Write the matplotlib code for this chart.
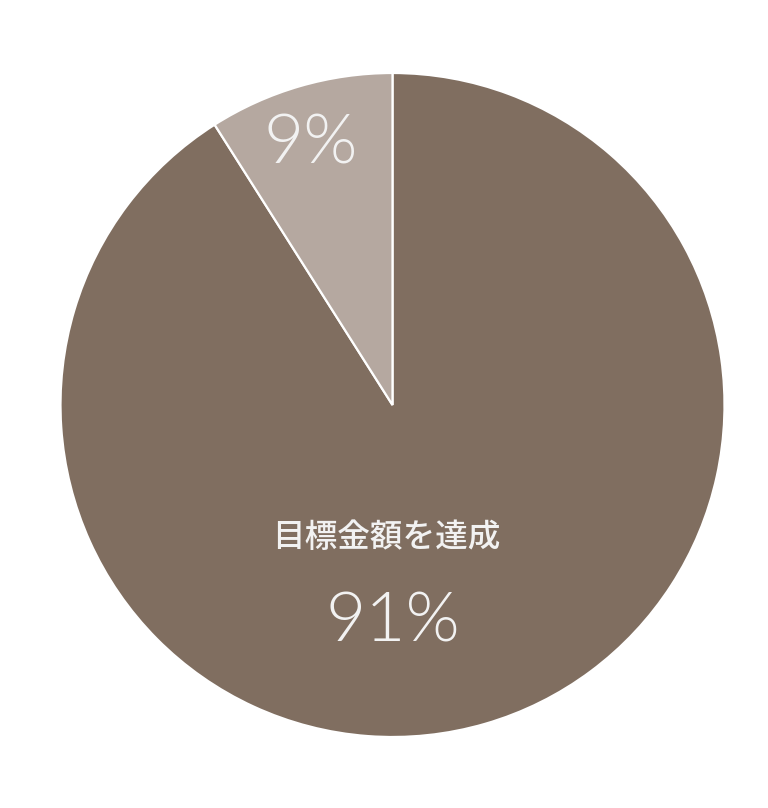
import matplotlib.pyplot as plt

# data
labels = ["目標金額を達成", ""]
shares = [91, 9]
colors = ["#806e60", "#b5a8a0"]

W, H = 768, 808
fig = plt.figure(figsize=(W / 100, H / 100), dpi=100)
ax = fig.add_axes([0, 0, 1, 1])

cx, cy, r = 392.5, H - 405, 332
wedges, _ = ax.pie(shares, colors=colors, startangle=90, counterclock=False,
                   center=(cx, cy), radius=r, frame=True,
                   wedgeprops=dict(edgecolor="white", linewidth=1.6))
ax.set_xlim(0, W)
ax.set_ylim(0, H)
ax.set_aspect("equal")
ax.axis("off")

txt = "#f2f2f2"
ax.text(386, H - 537, labels[0], ha="center", va="center", color=txt,
        fontsize=23.5, fontweight=500, family=["Noto Sans CJK JP", "DejaVu Sans"])
ax.text(393, H - 622, f"{shares[0]}%", ha="center", va="center", color=txt,
        fontsize=50, fontweight=300, family=["Lato", "DejaVu Sans"])
ax.text(311, H - 144, f"{shares[1]}%", ha="center", va="center", color=txt,
        fontsize=50, fontweight=300, family=["Lato", "DejaVu Sans"])

fig.savefig("out.png", dpi=100, facecolor="white")
